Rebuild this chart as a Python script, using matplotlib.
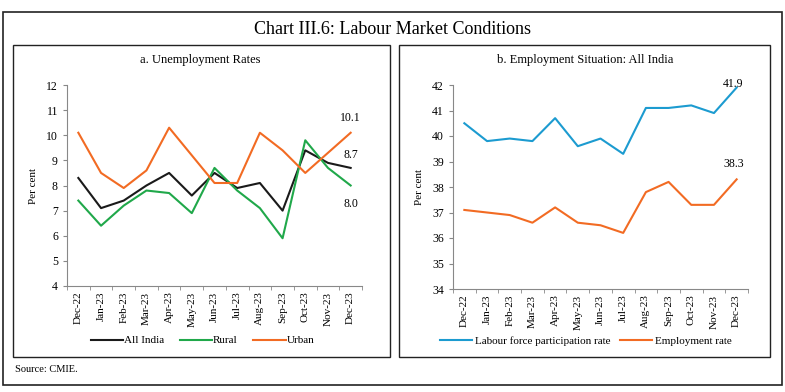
import numpy as np
import matplotlib
matplotlib.use("Agg")
import matplotlib.pyplot as plt
from matplotlib.patches import Rectangle

plt.rcParams['font.family'] = ['Liberation Serif', 'DejaVu Serif']

#----------------------------------------------------- DATA
months = ['Dec-22', 'Jan-23', 'Feb-23', 'Mar-23', 'Apr-23', 'May-23', 'Jun-23',
          'Jul-23', 'Aug-23', 'Sep-23', 'Oct-23', 'Nov-23', 'Dec-23']

all_india = [8.3, 7.1, 7.4, 8.0, 8.5, 7.6, 8.5, 7.9, 8.1, 7.0, 9.4, 8.9, 8.7]
rural = [7.4, 6.4, 7.2, 7.8, 7.7, 6.9, 8.7, 7.8, 7.1, 5.9, 9.8, 8.7, 8.0]
urban = [10.1, 8.5, 7.9, 8.6, 10.3, 9.2, 8.1, 8.1, 10.1, 9.4, 8.5, 9.3, 10.1]

lfpr = [40.5, 39.8, 39.9, 39.8, 40.7, 39.6, 39.9, 39.3, 41.1, 41.1, 41.2, 40.9, 41.9]
emp_rate = [37.1, 37.0, 36.9, 36.6, 37.2, 36.6, 36.5, 36.2, 37.8, 38.2, 37.3, 37.3, 38.3]

BLACK = '#1a1a1a'
GREEN = '#20a84a'
ORANGE = '#f26b23'
BLUE = '#1c9bd0'

W, H = 785, 392
fig = plt.figure(figsize=(W / 100, H / 100), dpi=100)


def px(x, y, w, h):  # pixel box (top-left origin) -> figure fraction
    return [x / W, 1 - (y + h) / H, w / W, h / H]


def box(x0, y0, x1, y1, lw=1.0):
    r = Rectangle((x0 / W, 1 - y1 / H), (x1 - x0) / W, (y1 - y0) / H,
                  transform=fig.transFigure, fill=False, edgecolor='#222222', lw=lw)
    fig.patches.append(r)


# frames
box(3, 12, 782, 385, lw=1.2)
box(13, 45, 390, 357)
box(399, 45, 770, 357)

fig.text(392 / W, 1 - 30 / H, 'Chart III.6: Labour Market Conditions',
         ha='center', va='center', fontsize=13)
fig.text(15 / W, 1 - 370 / H, 'Source: CMIE.', ha='left', va='center', fontsize=7.5)


def style_axes(ax, ymin, ymax):
    x = np.arange(len(months))
    ax.set_xlim(-0.5, len(months) - 0.5)
    ax.set_ylim(ymin, ymax)
    ax.set_yticks(np.arange(ymin, ymax + 1, 1))
    ax.set_xticks(x)
    ax.set_xticklabels(months, rotation=90, fontsize=8)
    ax.set_xticks(np.arange(-0.5, len(months), 1), minor=True)
    ax.tick_params(axis='x', which='major', length=0, pad=4)
    ax.tick_params(axis='x', which='minor', length=3, direction='out', color='#888888')
    ax.tick_params(axis='y', length=3, direction='out', labelsize=8.5, color='#888888')
    for s in ['top', 'right']:
        ax.spines[s].set_visible(False)
    for s in ['left', 'bottom']:
        ax.spines[s].set_color('#888888')
        ax.spines[s].set_linewidth(0.8)
    ax.set_ylabel('Per cent', fontsize=8, labelpad=6)
    return x


#----------------------------------------------------- PANEL A
fig.text(200 / W, 1 - 60 / H, 'a. Unemployment Rates', ha='center', va='center', fontsize=9)
ax1 = fig.add_axes(px(67, 85, 295, 201))
x = style_axes(ax1, 4, 12)
ax1.plot(x, all_india, color=BLACK, lw=1.5, label='All India')
ax1.plot(x, rural, color=GREEN, lw=1.5, label='Rural')
ax1.plot(x, urban, color=ORANGE, lw=1.5, label='Urban')
ax1.text(x[-1], urban[-1] + 0.6, '10.1', ha='center', va='center', fontsize=8.5)
ax1.text(x[-1], all_india[-1] + 0.5, '8.7', ha='center', va='center', fontsize=8.5)
ax1.text(x[-1], rural[-1] - 0.75, '8.0', ha='center', va='center', fontsize=8.5)
ax1.legend(loc='upper center', bbox_to_anchor=(0.46, -0.225), ncol=3, frameon=False,
           fontsize=8, handlelength=2.9, handletextpad=0.1, columnspacing=1.4,
           borderaxespad=0)

#----------------------------------------------------- PANEL B
fig.text(585 / W, 1 - 60 / H, 'b. Employment Situation: All India', ha='center', va='center', fontsize=9)
ax2 = fig.add_axes(px(453, 85, 295, 204))
x = style_axes(ax2, 34, 42)
ax2.plot(x, lfpr, color=BLUE, lw=1.5, label='Labour force participation rate')
ax2.plot(x, emp_rate, color=ORANGE, lw=1.5, label='Employment rate')
ax2.text(x[-1] - 0.15, lfpr[-1] + 0.12, '41.9', ha='center', va='center', fontsize=8.5)
ax2.text(x[-1] - 0.15, emp_rate[-1] + 0.6, '38.3', ha='center', va='center', fontsize=8.5)
ax2.legend(loc='upper center', bbox_to_anchor=(0.45, -0.21), ncol=2, frameon=False,
           fontsize=8, handlelength=2.9, handletextpad=0.3, columnspacing=0.8,
           borderaxespad=0)

fig.savefig('out.png', dpi=100)
